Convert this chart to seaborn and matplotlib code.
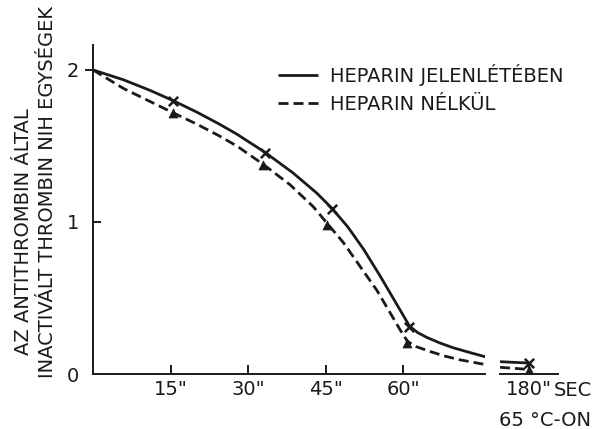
import numpy as np
import pandas as pd
import matplotlib
matplotlib.use("Agg")
import matplotlib.pyplot as plt
import matplotlib.lines as mlines
import seaborn as sns

# ---- data ----
# traced curves (time in s, NIH units)
hep_curve_t = [0, 5.9, 11.0, 15.5, 20.1, 24.2, 27.8, 33.3, 38.7, 43.3, 46.2, 49.3,
               52.3, 55.5, 58.1, 60.0, 61.2, 62.8, 64.6, 67.0, 69.7, 73.0, 76.2]
hep_curve_y = [2.00, 1.935, 1.866, 1.798, 1.722, 1.648, 1.578, 1.457, 1.322, 1.189, 1.090, 0.966,
               0.822, 0.646, 0.495, 0.385, 0.315, 0.272, 0.240, 0.205, 0.172, 0.140, 0.110]
nel_curve_t = [0, 5.9, 11.0, 15.5, 20.1, 24.2, 27.8, 32.8, 38.1, 42.6, 45.3, 48.4,
               51.6, 54.9, 57.5, 59.4, 60.8, 62.5, 65.2, 68.0, 71.0, 76.2]
nel_curve_y = [2.00, 1.878, 1.793, 1.718, 1.643, 1.570, 1.500, 1.382, 1.245, 1.100, 0.990, 0.865,
               0.710, 0.550, 0.400, 0.290, 0.215, 0.180, 0.148, 0.118, 0.093, 0.060]
# segment after the axis break
hep_tail_t = [174.4, 180]
hep_tail_y = [0.081, 0.072]
nel_tail_t = [174.4, 180]
nel_tail_y = [0.044, 0.030]
# measured points (markers)
hep_mark_t = [15.5, 33.3, 46.2, 61.2, 180]
hep_mark_y = [1.798, 1.456, 1.086, 0.31, 0.072]
nel_mark_t = [15.5, 32.8, 45.3, 60.8, 180]
nel_mark_y = [1.715, 1.375, 0.98, 0.206, 0.025]

x_ticks = [15, 30, 45, 60]
x_ticklabels = ['15"', '30"', '45"', '60"']
x_break_tick = [180]
x_break_label = ['180"']
y_ticks = [0, 1, 2]
y_ticklabels = ['0', '1', '2']

series_names = ["HEPARIN JELENLÉTÉBEN", "HEPARIN NÉLKÜL"]
ylabel_1 = "AZ ANTITHROMBIN ÁLTAL"
ylabel_2 = "INACTIVÁLT THROMBIN NIH EGYSÉGEK"

sns.set_theme(style="white")
plt.rcParams['font.family'] = ['DejaVu Sans']
INK = '#1a1a1a'
FS = 14

W, H = 595, 429
fig = plt.figure(figsize=(W / 100, H / 100), dpi=100, facecolor='white')

def fx(px):
    return px / W

def fy(py):
    return 1 - py / H

y0, y1 = 374, 45
axL = fig.add_axes([fx(93), fy(y0), fx(485) - fx(93), fy(y1) - fy(y0)])
axR = fig.add_axes([fx(500), fy(y0), fx(558) - fx(500), fy(y1) - fy(y0)])

LW = 2.0
DASH = (3.6, 1.8)
for ax, (ht, hy, nt, ny) in [
    (axL, (hep_curve_t, hep_curve_y, nel_curve_t, nel_curve_y)),
    (axR, (hep_tail_t, hep_tail_y, nel_tail_t, nel_tail_y)),
]:
    sns.lineplot(x=ht, y=hy, ax=ax, color=INK, lw=LW, sort=False,
                 solid_joinstyle='round', solid_capstyle='butt',
                 label=series_names[0] if ax is axL else None)
    sns.lineplot(x=nt, y=ny, ax=ax, color=INK, lw=LW, sort=False,
                 linestyle=(0, DASH), dash_joinstyle='round',
                 label=series_names[1] if ax is axL else None)

mL = pd.DataFrame({"t": hep_mark_t, "y": hep_mark_y})
nL = pd.DataFrame({"t": nel_mark_t, "y": nel_mark_y})
for ax, cond in [(axL, lambda d: d[d.t < 100]), (axR, lambda d: d[d.t > 100])]:
    d1 = cond(mL)
    d2 = cond(nL)
    sns.scatterplot(data=d1, x="t", y="y", ax=ax, marker="x", s=45,
                    color=INK, linewidth=1.8, zorder=5)
    sns.scatterplot(data=d2, x="t", y="y", ax=ax, marker="^", s=42,
                    color=INK, edgecolor=INK, linewidth=0.5, zorder=5)

for ax in (axL, axR):
    ax.set_ylim(0, 2.164)
    ax.set_facecolor('white')
    ax.set_xlabel('')
    ax.set_ylabel('')
    for s in ('top', 'right'):
        ax.spines[s].set_visible(False)
    ax.spines['bottom'].set_color(INK)
    ax.spines['bottom'].set_linewidth(1.4)

axL.set_xlim(0, 75.8)
axR.set_xlim(174.4, 185.6)
axR.spines['left'].set_visible(False)
axL.spines['left'].set_color(INK)
axL.spines['left'].set_linewidth(1.4)

axL.set_xticks(x_ticks)
axL.set_xticklabels(x_ticklabels)
axR.set_xticks(x_break_tick)
axR.set_xticklabels(x_break_label)
axR.set_yticks([])
for ax in (axL, axR):
    ax.tick_params(axis='x', direction='in', length=6.5, width=1.4, color=INK,
                   labelsize=FS, labelcolor=INK, pad=4, bottom=True)

axL.set_yticks(y_ticks)
axL.set_yticklabels(y_ticklabels)
axL.tick_params(axis='y', direction='out', length=6, width=1.4, color=INK,
                labelsize=FS, labelcolor=INK, pad=4, left=True)
yt = axL.yaxis.get_major_ticks()
yt[0].tick1line.set_visible(False)
yt[1].tick1line.set_marker(mlines.TICKRIGHT)
yt[2].tick1line.set_marker(mlines.TICKLEFT)

# legend
h, l = axL.get_legend_handles_labels()
axL.get_legend().remove()
fig.legend(h, l, loc='center left', bbox_to_anchor=(fx(278), fy(89)),
           frameon=False, fontsize=FS, handlelength=2.06, handletextpad=0.62,
           labelspacing=0.45, borderpad=0, borderaxespad=0, labelcolor=INK)

# axis texts
fig.text(fx(24), fy(232), ylabel_1, rotation=90, ha='center', va='center',
         fontsize=FS, color=INK)
fig.text(fx(48), fy(192), ylabel_2, rotation=90, ha='center', va='center',
         fontsize=FS, color=INK)
fig.text(fx(554), fy(390), "SEC", ha='left', va='center', fontsize=FS, color=INK)
fig.text(fx(545), fy(420), "65 °C-ON", ha='center', va='center', fontsize=FS, color=INK)

fig.savefig("out.png", dpi=100, facecolor='white')
